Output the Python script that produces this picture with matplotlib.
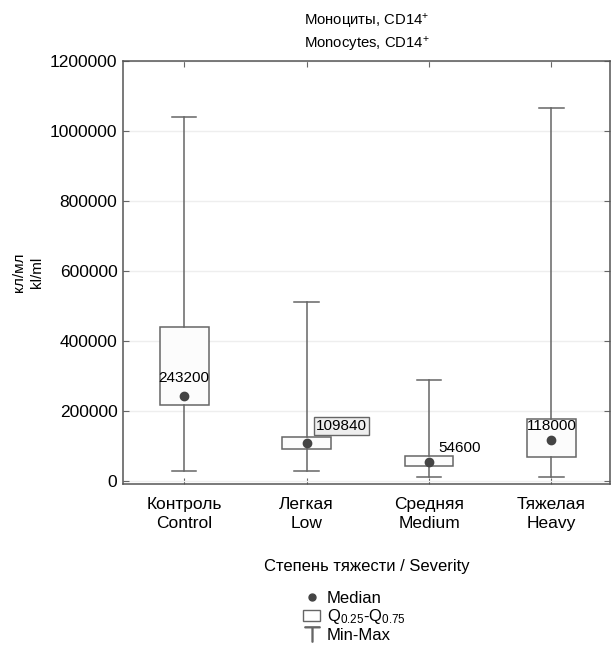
import matplotlib
matplotlib.use("Agg")
import matplotlib.pyplot as plt
from matplotlib.lines import Line2D
from matplotlib.patches import Patch

plt.rcParams['font.family'] = ['Liberation Sans', 'DejaVu Sans']
plt.rcParams['mathtext.fontset'] = 'custom'
plt.rcParams['mathtext.rm'] = 'Liberation Sans'
plt.rcParams['mathtext.it'] = 'Liberation Sans:italic'

# data
categories = ['Контроль\nControl', 'Легкая\nLow', 'Средняя\nMedium', 'Тяжелая\nHeavy']
medians = [243200, 109840, 54600, 118000]
q1 = [216000, 92000, 42000, 68500]
q3 = [440000, 127000, 71500, 178000]
mins = [30000, 29000, 11000, 13000]
maxs = [1040000, 510000, 290000, 1065000]
yticks = [0, 200000, 400000, 600000, 800000, 1000000, 1200000]

edge = '#666666'
dot = '#444444'

fig = plt.figure(figsize=(6.12, 6.56), dpi=100)
ax = fig.add_axes([0.201, 0.262, 0.796, 0.6455])

stats = []
for i in range(len(categories)):
    stats.append({'med': medians[i], 'q1': q1[i], 'q3': q3[i],
                  'whislo': mins[i], 'whishi': maxs[i], 'fliers': []})
pos = list(range(len(categories)))
ax.bxp(stats, positions=pos, widths=0.4, patch_artist=True, showfliers=False,
       boxprops=dict(facecolor='#fcfcfc', edgecolor=edge, linewidth=1.1),
       whiskerprops=dict(color=edge, linewidth=1.1),
       capprops=dict(color=edge, linewidth=1.1),
       medianprops=dict(linewidth=0),
       capwidths=0.2)
ax.plot(pos, medians, 'o', color=dot, markersize=6, zorder=5)

# median annotations
ax.annotate(str(medians[0]), (pos[0], medians[0]), xytext=(0, 13), textcoords='offset points',
            ha='center', va='center', fontsize=11)
ax.annotate(str(medians[1]), (pos[1], medians[1]), xytext=(25, 12), textcoords='offset points',
            ha='center', va='center', fontsize=11,
            bbox=dict(boxstyle='square,pad=0.12', facecolor='#eeeeee', edgecolor=edge, linewidth=1))
ax.annotate(str(medians[2]), (pos[2], medians[2]), xytext=(22, 10), textcoords='offset points',
            ha='center', va='center', fontsize=11)
ax.annotate(str(medians[3]), (pos[3], medians[3]), xytext=(0, 10), textcoords='offset points',
            ha='center', va='center', fontsize=11)

ax.set_xlim(-0.5, 3.48)
ax.set_ylim(-8500, 1200000)
ax.set_yticks(yticks)
ax.set_yticklabels([str(t) for t in yticks], fontsize=12.5)
ax.set_xticks(pos)
ax.set_xticklabels(categories, fontsize=12.5, linespacing=1.35)
ax.tick_params(direction='in', length=4, color=edge, top=True, right=True)
ax.tick_params(axis='x', pad=9)
ax.tick_params(axis='y', pad=4)
ax.grid(axis='y', color='#eeeeee', linewidth=1)
ax.set_axisbelow(True)
for s in ax.spines.values():
    s.set_color('#555555')
    s.set_linewidth(1.1)

ax.set_title('Моноциты, CD14$^{+}$\nMonocytes, CD14$^{+}$', fontsize=10.7, linespacing=1.3, pad=9)
ax.set_ylabel('кл/мл\nkl/ml', fontsize=11, linespacing=1.4, labelpad=4)
ax.set_xlabel('Степень тяжести / Severity', fontsize=12, labelpad=20)

# legend
handles = [Line2D([], [], marker='o', ls='none', color=dot, markersize=5),
           Patch(facecolor='white', edgecolor=edge, linewidth=1),
           Line2D([], [], marker='$\\top$', ls='none', color=edge, markersize=11)]
labels = ['Median', 'Q$_{0.25}$-Q$_{0.75}$', 'Min-Max']
fig.legend(handles, labels, loc='upper left', bbox_to_anchor=(0.485, 0.110),
           frameon=False, fontsize=12, handlelength=1.0, handletextpad=0.4,
           labelspacing=0.1, borderaxespad=0)

fig.savefig('out.png', dpi=100)
